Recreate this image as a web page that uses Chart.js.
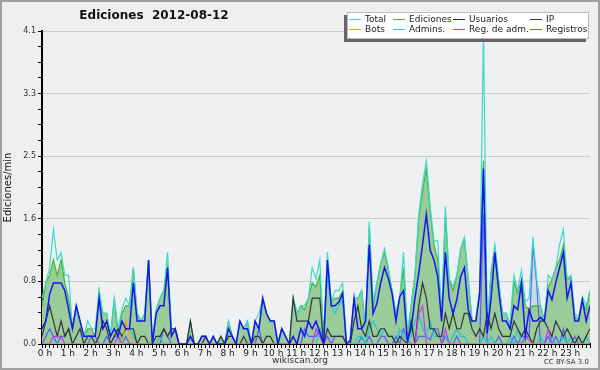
<!DOCTYPE html>
<html>
<head>
<meta charset="utf-8">
<script src="https://cdn.jsdelivr.net/npm/chart.js@4.4.0/dist/chart.umd.min.js"></script>
<style>
  html, body { margin: 0; padding: 0; background: #efefef; }
  canvas { display: block; }
</style>
</head>
<body>
<canvas id="editsChart" width="600" height="370"></canvas>
<script>
// 10-minute bins, 0 h .. 24 h (values in edits per minute)
const hourLabels = ["0 h","1 h","2 h","3 h","4 h","5 h","6 h","7 h","8 h","9 h","10 h","11 h",
  "12 h","13 h","14 h","15 h","16 h","17 h","18 h","19 h","20 h","21 h","22 h","23 h"];
const yTickLabels = ["0.0", "0.8", "1.6", "2.5", "3.3", "4.1"];

const total = [
  0.6,0.8,1.0,1.5,1.1,1.2,0.9,0.9,0.2,0.5, 0.3,0.1,0.3,0.2,0.2,0.7,0.4,0.4,0.1,0.6,
  0.2,0.45,0.6,0.5,1.0,0.4,0.3,0.4,1.1,0.05, 0.45,0.6,0.7,1.2,0.2,0.2,0,0,0,0.3,
  0,0,0.1,0.1,0,0.1,0,0.1,0,0.3, 0.1,0,0.3,0.2,0.3,0,0.3,0.4,0.6,0.4,
  0.3,0.3,0,0.2,0.1,0,0.6,0.4,0.5,0.5, 0.6,1.0,0.85,1.1,0.1,1.2,0.55,0.7,0.7,0.8,
  0,0.05,0.6,0.6,0.7,0.2,1.6,0.55,0.8,1.05, 1.25,1.0,0.7,0.4,0.6,1.2,0.15,0.5,0.9,1.7,
  2.1,2.4,1.8,1.35,1.35,0.35,1.8,0.85,0.75,0.9, 1.25,1.4,0.85,0.3,0.3,0.7,4.1,0.2,0.95,1.3,
  0.85,0.4,0.4,0.25,0.9,0.7,0.97,0.55,0.6,1.4, 0.85,0.5,0.3,0.9,0.85,1.0,1.3,1.5,0.85,0.9,
  0.4,0.35,0.62,0.5,0.7
];
const ediciones = [
  0.5,0.8,0.9,1.1,0.9,1.1,0.8,0.6,0.2,0.5, 0.3,0.1,0.2,0.2,0.1,0.7,0.4,0.4,0.1,0.6,
  0.1,0.4,0.5,0.5,1.0,0.4,0.3,0.4,1.1,0, 0.45,0.6,0.7,1.0,0.2,0.2,0,0,0,0.3,
  0,0,0.1,0.1,0,0.1,0,0.1,0,0.3, 0.1,0,0.3,0.2,0.3,0,0.3,0.2,0.6,0.4,
  0.3,0.3,0,0.2,0.1,0,0.6,0.4,0.5,0.45, 0.6,0.8,0.75,0.9,0.1,1.1,0.55,0.6,0.6,0.7,
  0,0.05,0.6,0.6,0.7,0.2,1.55,0.5,0.8,1.05, 1.2,0.97,0.7,0.4,0.6,1.0,0.1,0.5,0.9,1.65,
  2.0,2.3,1.75,1.3,1.1,0.35,1.7,0.84,0.7,0.88, 1.23,1.38,0.84,0.3,0.3,0.7,2.4,0.2,0.93,1.27,
  0.8,0.4,0.4,0.25,0.82,0.66,0.84,0.5,0.45,0.5, 0.5,0.5,0.3,0.75,0.84,1.0,1.1,1.3,0.84,0.88,
  0.36,0.31,0.55,0.45,0.7
];
const usuarios = [
  0.2,0.3,0.65,0.8,0.8,0.8,0.7,0.45,0.2,0.5, 0.3,0.1,0.1,0.1,0.1,0.6,0.2,0.3,0.1,0.2,
  0.1,0.3,0.2,0.2,0.8,0.3,0.3,0.3,1.1,0, 0.4,0.5,0.5,1.0,0.1,0.2,0,0,0,0.1,
  0,0,0.1,0.1,0,0.1,0,0,0,0.2, 0.1,0,0.3,0.2,0.2,0,0.3,0.2,0.6,0.4,
  0.3,0.3,0,0.2,0.1,0,0.1,0,0.2,0.1, 0.3,0.2,0.3,0.15,0,1.1,0.5,0.5,0.55,0.66,
  0,0.05,0.6,0.2,0.2,0.3,1.3,0.4,0.53,0.8, 1.0,0.86,0.66,0.3,0.62,0.7,0.05,0.2,0.6,0.93,
  1.3,1.7,1.23,1.1,0.88,0.3,1.2,0.6,0.4,0.58, 0.88,1.0,0.45,0.3,0.3,0.66,2.3,0.14,0.6,1.2,
  0.7,0.3,0.3,0.2,0.5,0.45,0.8,0.1,0.45,0.3, 0.3,0.35,0.3,0.7,0.58,0.8,1.0,1.2,0.6,0.8,
  0.3,0.3,0.58,0.3,0.5
];
const ip = [
  0.1,0.3,0.5,0.3,0.1,0.3,0.1,0.2,0,0.1, 0.2,0,0.1,0.1,0,0.1,0.3,0.2,0,0.1,
  0.2,0.1,0.2,0.2,0.2,0,0.1,0.1,0,0, 0.1,0.1,0.2,0.1,0.2,0.2,0,0,0,0.3,
  0,0,0,0.1,0,0,0,0.1,0,0.1, 0.1,0,0,0.1,0,0,0.1,0.1,0,0.1,
  0.1,0,0,0,0,0,0.6,0.3,0.3,0.3, 0.3,0.6,0.6,0.6,0,0.2,0.1,0.1,0.1,0.1,
  0,0,0.3,0.5,0.2,0.1,0.3,0.1,0.1,0.2, 0.2,0.1,0.1,0,0.1,0.05,0,0.3,0,0.5,
  0.8,0.6,0.2,0.2,0.1,0.1,0.4,0.2,0.4,0.2, 0.2,0.4,0.4,0.2,0.1,0.2,0.1,0.4,0.2,0.4,
  0.2,0.1,0.1,0.1,0.3,0.2,0.1,0.2,0.1,0, 0.2,0.3,0.3,0.2,0.1,0.3,0.2,0.1,0.2,0.1,
  0,0.1,0,0.1,0.2
];
const bots = [
  0,0,0,0,0,0,0,0,0,0, 0,0,0,0,0,0,0,0,0,0, 0,0,0.3,0.1,0,0,0,0,0,0,
  0,0,0,0,0,0,0,0,0,0, 0,0,0,0,0,0,0,0,0,0, 0,0,0,0,0,0,0,0,0,0,
  0,0,0,0,0,0,0,0,0,0, 0,0,0,0,0,0,0,0,0,0, 0,0,0,0,0,0,0,0,0,0,
  0,0,0,0,0,0,0,0,0,0, 0,0,0,0,0,0,0,0,0,0, 0,0,0,0,0,0,0,0,0,0,
  0,0,0,0,0,0,0,0,0,0, 0,0,0,0,0,0,0,0,0,0, 0,0,0,0,0
];
const admins = [
  0,0,0,0,0,0,0,0,0,0, 0,0,0,0,0,0,0,0,0,0, 0,0.1,0.2,0.2,0.1,0,0,0,0,0,
  0,0.1,0,0,0,0,0,0,0,0, 0,0,0,0,0,0,0,0,0,0, 0,0,0,0,0,0,0,0,0,0,
  0,0,0,0,0,0,0,0,0,0, 0,0,0,0.2,0.1,0.9,0.5,0.4,0.5,0.6, 0,0,0,0.1,0.1,0,0.2,0.3,0.2,0.1,
  0.2,0.1,0.1,0,0.2,0.1,0.05,0.1,0.3,0.4, 0.2,0.1,0.3,0.1,0.1,0.1,0.1,0,0.1,0.2,
  0.1,0.1,0,0,0,0,0.1,0,0.1,0, 0,0,0,0.1,0,0.2,0,0,0,0, 0,0.1,0,0,0.1,0,0,0.1,0,0.1,
  0,0.1,0,0.1,0
];
const regAdm = [
  0,0,0,0.1,0.1,0.1,0,0,0,0, 0,0,0,0,0,0,0,0,0,0, 0.1,0,0,0,0,0,0,0,0,0,
  0,0,0,0,0,0,0,0,0,0, 0,0,0,0,0,0,0,0,0,0, 0,0,0,0,0,0,0,0,0,0,
  0,0,0,0,0,0,0,0,0,0, 0,0,0.2,0.1,0,0,0,0,0,0, 0,0,0,0,0,0,0,0,0,0,
  0,0,0,0,0,0,0,0,0,0.4, 0.5,0,0,0,0,0,0.2,0,0,0, 0,0,0,0,0,0,0,0,0,0,
  0,0,0,0,0,0,0,0.1,0.05,0, 0,0,0,0.2,0,0,0,0,0,0, 0,0,0,0,0
];
const registros = [
  0,0.1,0.2,0.1,0,0.1,0.1,0.2,0,0, 0,0,0,0.1,0.1,0,0,0.1,0,0.1,
  0.1,0,0.1,0,0,0,0,0,0,0, 0,0,0.2,0.1,0,0,0,0,0,0,
  0,0,0,0,0,0.1,0,0,0,0, 0,0,0,0,0,0,0,0.2,0,0,
  0,0,0,0,0,0,0,0,0,0.2, 0.1,0.1,0.1,0.2,0,0.1,0,0.1,0.1,0.1,
  0,0,0,0,0.1,0,0.1,0,0,0.1, 0.1,0,0,0.1,0,0.2,0.05,0,0,0.1,
  0.1,0.1,0.05,0.2,0.2,0,0.1,0,0,0.1, 0,0,0,0,0,0,1.7,0,0,0,
  0.1,0,0,0,0.1,0,0.1,0.1,0.1,1.3, 0.8,0,0,0.1,0,0.1,0,0.2,0,0,
  0.1,0,0,0,0
];

const toPoints = arr => arr.map((v, i) => ({ x: i, y: v }));
const yStep = 4.1 / 20;

function line(label, data, color, order, extra) {
  return Object.assign({
    label: label,
    data: toPoints(data),
    borderColor: color,
    borderWidth: 1.2,
    pointRadius: 0,
    tension: 0,
    fill: false,
    order: order
  }, extra || {});
}

const datasets = [
  line("Total", total, "#3fd8c8", 7),
  line("Ediciones", ediciones, "#3cb83c", 8, { fill: "origin", backgroundColor: "#99cc99" }),
  line("Usuarios", usuarios, "#1414ee", 1, { borderWidth: 1.5 }),
  line("IP", ip, "#333333", 4),
  line("Bots", bots, "#ff9a1a", 2),
  line("Admins.", admins, "#22c4dc", 6),
  line("Reg. de adm.", regAdm, "#c03cf0", 3),
  line("Registros", registros, "#5a5aff", 9, { fill: "origin", backgroundColor: "#c5dde6" })
];

// background, frame, title, legend box and footer texts
const decorations = {
  id: "decorations",
  beforeDraw(chart) {
    const ctx = chart.ctx;
    ctx.save();
    ctx.fillStyle = "#efefef";
    ctx.fillRect(0, 0, chart.width, chart.height);
    const a = chart.chartArea;
    ctx.fillStyle = "#eef0f2";
    ctx.fillRect(a.left, a.top, a.right - a.left, a.bottom - a.top);
    ctx.strokeStyle = "#a0a0a0";
    ctx.lineWidth = 2;
    ctx.strokeRect(1, 1, chart.width - 2, chart.height - 2);
    ctx.restore();
  },
  afterDraw(chart) {
    const ctx = chart.ctx;
    ctx.save();
    ctx.fillStyle = "#111";
    ctx.font = "bold 12px 'DejaVu Sans'";
    ctx.textAlign = "center";
    ctx.textBaseline = "middle";
    ctx.fillText("Ediciones  2012-08-12", 154, 16);

    // legend
    ctx.fillStyle = "#666";
    ctx.fillRect(344, 15, 242, 27);
    ctx.fillStyle = "#ffffff";
    ctx.fillRect(347, 12, 242, 27);
    ctx.strokeStyle = "#bbb";
    ctx.lineWidth = 1;
    ctx.strokeRect(347.5, 12.5, 241, 26);
    const cols = [349, 393, 453, 530];
    ctx.font = "9px 'DejaVu Sans'";
    ctx.textAlign = "left";
    chart.data.datasets.forEach((ds, i) => {
      const x = cols[i % 4];
      const y = 19.5 + Math.floor(i / 4) * 10;
      ctx.strokeStyle = ds.borderColor;
      ctx.lineWidth = 1;
      ctx.beginPath();
      ctx.moveTo(x, y);
      ctx.lineTo(x + 12, y);
      ctx.stroke();
      ctx.fillStyle = "#222";
      ctx.fillText(ds.label, x + 16, y);
    });

    ctx.fillStyle = "#333";
    ctx.font = "9px 'DejaVu Sans'";
    ctx.textAlign = "center";
    ctx.fillText("wikiscan.org", 300, 361);
    ctx.font = "7px 'DejaVu Sans'";
    ctx.textAlign = "right";
    ctx.fillText("CC BY-SA 3.0", 589, 362);
    ctx.restore();
  }
};

new Chart(document.getElementById("editsChart"), {
  type: "line",
  data: { datasets: datasets },
  options: {
    responsive: false,
    animation: false,
    devicePixelRatio: 1,
    layout: { padding: { left: 2, right: 10, top: 31, bottom: 0 } },
    plugins: {
      legend: { display: false },
      title: { display: false },
      tooltip: { enabled: false },
      filler: { drawTime: "beforeDatasetsDraw" }
    },
    scales: {
      x: {
        type: "linear",
        min: 0,
        max: 144,
        afterFit: scale => { scale.height = 26; },
        afterBuildTicks: scale => {
          scale.ticks = Array.from({ length: 145 }, (_, i) => ({ value: i }));
        },
        ticks: {
          autoSkip: false,
          maxRotation: 0,
          padding: 0,
          labelOffset: 3,
          color: "#222",
          font: { family: "DejaVu Sans", size: 9 },
          callback: v => (v % 6 === 0 && v < 144) ? hourLabels[v / 6] : ""
        },
        grid: { drawOnChartArea: false, tickLength: 4, tickColor: "#000", tickWidth: 1 },
        border: { display: true, color: "#000", width: 2 }
      },
      y: {
        min: 0,
        max: 4.1,
        afterFit: scale => { scale.width = 40; },
        afterBuildTicks: scale => {
          scale.ticks = Array.from({ length: 21 }, (_, k) => ({ value: k * yStep }));
        },
        ticks: {
          autoSkip: false,
          padding: 2,
          color: "#333",
          font: { family: "DejaVu Sans", size: 8 },
          callback: (v, i) => (i % 4 === 0) ? yTickLabels[i / 4] : ""
        },
        grid: {
          color: ctx => (ctx.index % 4 === 0 && ctx.index > 0) ? "#cccccc" : "rgba(0,0,0,0)",
          tickColor: "#000",
          tickLength: 4
        },
        border: { display: true, color: "#000", width: 2 },
        title: {
          display: true,
          text: "Ediciones/min",
          color: "#111",
          font: { family: "DejaVu Sans", size: 10 },
          padding: { top: 0, bottom: 2 }
        }
      }
    }
  },
  plugins: [decorations]
});
</script>
</body>
</html>
